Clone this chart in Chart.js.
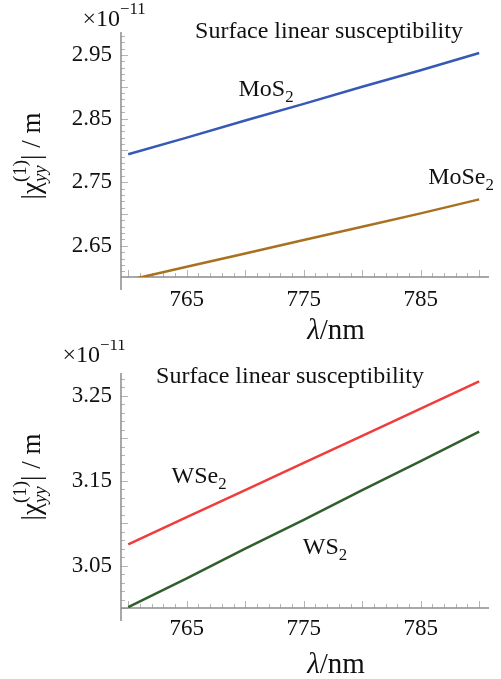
<!DOCTYPE html>
<html>
<head>
<meta charset="utf-8">
<script src="https://cdn.jsdelivr.net/npm/chart.js@4/dist/chart.umd.min.js"></script>
<style>
  body { margin: 0; background: #fff; }
  #wrap { position: relative; width: 501px; height: 679px; }
  canvas { position: absolute; left: 0; }
</style>
</head>
<body>
<div id="wrap">
  <canvas id="top" width="501" height="340" style="top:0"></canvas>
  <canvas id="bottom" width="501" height="339" style="top:340px"></canvas>
</div>
<script>
// wavelength (nm)
const lambda = [760, 765, 770, 775, 780, 785, 790];

// top panel (x 1e-11 m)
const mos2  = [2.794, 2.820, 2.847, 2.873, 2.900, 2.926, 2.953];
const mose2 = [2.596, 2.617, 2.638, 2.659, 2.680, 2.701, 2.723];

// bottom panel (x 1e-11 m)
const wse2 = [3.075, 3.107, 3.139, 3.171, 3.203, 3.235, 3.267];
const ws2  = [3.001, 3.035, 3.070, 3.104, 3.139, 3.173, 3.208];

// tick labels
const xTicks = [765, 775, 785];
const yTicksTop = [2.65, 2.75, 2.85, 2.95];
const yTicksBottom = [3.05, 3.15, 3.25];

const serif = '"Liberation Serif", serif';
Chart.defaults.font.family = serif;
Chart.defaults.color = '#111';

const pts = ys => lambda.map((x, i) => ({ x: x, y: ys[i] }));

// axis lines, inward ticks and tick labels, Mathematica style
const frameAxes = {
  id: 'frameAxes',
  beforeDatasetsDraw(chart) {
    const ctx = chart.ctx;
    const { left, right, top, bottom } = chart.chartArea;
    const xs = chart.scales.x, ys = chart.scales.y;
    ctx.save();
    ctx.strokeStyle = '#b5b5b5';
    ctx.lineWidth = 1;
    for (let v = Math.ceil(xs.min); v <= xs.max; v++) {
      const px = Math.round(xs.getPixelForValue(v)) + 0.5;
      const len = v % 5 === 0 ? 7 : 4;
      ctx.beginPath(); ctx.moveTo(px, bottom); ctx.lineTo(px, bottom - len); ctx.stroke();
    }
    for (let k = Math.ceil(ys.min * 100); k <= ys.max * 100; k++) {
      const py = Math.round(ys.getPixelForValue(k / 100)) + 0.5;
      const len = k % 5 === 0 ? 7 : 4;
      ctx.beginPath(); ctx.moveTo(left, py); ctx.lineTo(left + len, py); ctx.stroke();
    }
    ctx.strokeStyle = '#8c8c8c';
    ctx.lineWidth = 1.5;
    ctx.beginPath();
    ctx.moveTo(left, top); ctx.lineTo(left, bottom + 13);
    ctx.moveTo(left, bottom); ctx.lineTo(right, bottom);
    ctx.stroke();

    // tick labels
    ctx.fillStyle = '#111';
    ctx.font = '23px ' + serif;
    ctx.textAlign = 'center';
    ctx.textBaseline = 'middle';
    xs.ticks.forEach(t => {
      ctx.fillText(String(t.value), xs.getPixelForValue(t.value), bottom + chart.options.xLabelGap);
    });
    ctx.textAlign = 'right';
    ys.ticks.forEach(t => {
      ctx.fillText(t.value.toFixed(2), left - 9, ys.getPixelForValue(t.value));
    });
    ctx.restore();
  }
};

// text with sub/superscript parts; "stack" puts a sub and sup in the same column
function mathText(ctx, parts, x, y, size) {
  const fontOf = p => (p.italic ? 'italic ' : '') + (p.sub || p.sup ? size * 0.7 : size) + 'px ' + serif;
  const widthOf = p => { ctx.font = fontOf(p); return ctx.measureText(p.t).width; };
  let w = 0;
  parts.forEach((p, i) => {
    const pw = widthOf(p);
    if (p.stack) w += Math.max(0, pw - widthOf(parts[i - 1]));
    else w += pw;
  });
  let cx = x - w / 2, prevX = cx, prevW = 0;
  parts.forEach(p => {
    ctx.font = fontOf(p);
    const dy = p.sub ? size * 0.3 : p.sup ? -size * 0.45 : 0;
    const pw = ctx.measureText(p.t).width;
    if (p.stack) {
      ctx.fillText(p.t, prevX, y + dy);
      cx = prevX + Math.max(pw, prevW);
    } else {
      ctx.fillText(p.t, cx, y + dy);
      prevX = cx; prevW = pw;
      cx += pw;
    }
  });
}

function labels(items) {
  return {
    id: 'labels',
    afterDraw(chart) {
      const ctx = chart.ctx;
      ctx.save();
      ctx.fillStyle = '#111';
      ctx.textBaseline = 'middle';
      ctx.textAlign = 'left';
      items.forEach(it => {
        if (it.rotate) {
          ctx.save();
          ctx.translate(it.x, it.y);
          ctx.rotate(-Math.PI / 2);
          mathText(ctx, it.parts, 0, 0, it.size);
          ctx.restore();
        } else {
          mathText(ctx, it.parts, it.x, it.y, it.size);
        }
      });
      ctx.restore();
    }
  };
}

const yTitle = [
  { t: '|χ' }, { t: 'yy', italic: true, sub: true }, { t: '(1)', sup: true, stack: true }, { t: '| / m' }
];

function makeChart(id, sets, yMin, yMax, yTicks, padTop, xAxisH, xGap, extra) {
  new Chart(document.getElementById(id), {
    type: 'line',
    data: {
      datasets: sets.map(s => ({
        data: pts(s.data),
        borderColor: s.color,
        borderWidth: 2.5,
        pointRadius: 0,
        tension: 0
      }))
    },
    options: {
      responsive: false,
      animation: false,
      xLabelGap: xGap,
      layout: { padding: { left: 0, right: 12, top: padTop, bottom: 0 } },
      plugins: { legend: { display: false }, tooltip: { enabled: false } },
      scales: {
        x: {
          type: 'linear',
          min: 759.38,
          max: 790.84,
          afterBuildTicks: s => { s.ticks = xTicks.map(v => ({ value: v })); },
          afterFit: s => { s.height = xAxisH; },
          ticks: { display: false },
          grid: { display: false, drawTicks: false },
          border: { display: false }
        },
        y: {
          min: yMin,
          max: yMax,
          afterBuildTicks: s => { s.ticks = yTicks.map(v => ({ value: v })); },
          afterFit: s => { s.width = 121; },
          ticks: { display: false },
          grid: { display: false, drawTicks: false },
          border: { display: false }
        }
      }
    },
    plugins: [frameAxes, labels(extra)]
  });
}

makeChart('top',
  [{ data: mos2, color: '#3559b4' }, { data: mose2, color: '#a8701f' }],
  2.601, 2.986, yTicksTop, 32, 63, 23,
  [
    { parts: [{ t: '×10' }, { t: '−11', sup: true }], x: 114, y: 20, size: 24 },
    { parts: [{ t: 'Surface linear susceptibility' }], x: 329, y: 32, size: 24 },
    { parts: [{ t: 'MoS' }, { t: '2', sub: true }], x: 266, y: 90, size: 24 },
    { parts: [{ t: 'MoSe' }, { t: '2', sub: true }], x: 461, y: 178, size: 24 },
    { parts: [{ t: 'λ', italic: true }, { t: '/nm' }], x: 336, y: 331, size: 29 },
    { parts: yTitle, x: 33, y: 156, size: 27, rotate: true }
  ]);

makeChart('bottom',
  [{ data: wse2, color: '#f03c3c' }, { data: ws2, color: '#2f5f2b' }],
  3.0, 3.277, yTicksBottom, 33, 71, 21,
  [
    { parts: [{ t: '×10' }, { t: '−11', sup: true }], x: 94, y: 16, size: 24 },
    { parts: [{ t: 'Surface linear susceptibility' }], x: 290, y: 37, size: 24 },
    { parts: [{ t: 'WSe' }, { t: '2', sub: true }], x: 199, y: 137, size: 24 },
    { parts: [{ t: 'WS' }, { t: '2', sub: true }], x: 325, y: 208, size: 24 },
    { parts: [{ t: 'λ', italic: true }, { t: '/nm' }], x: 336, y: 325, size: 29 },
    { parts: yTitle, x: 33, y: 137, size: 27, rotate: true }
  ]);
</script>
</body>
</html>
